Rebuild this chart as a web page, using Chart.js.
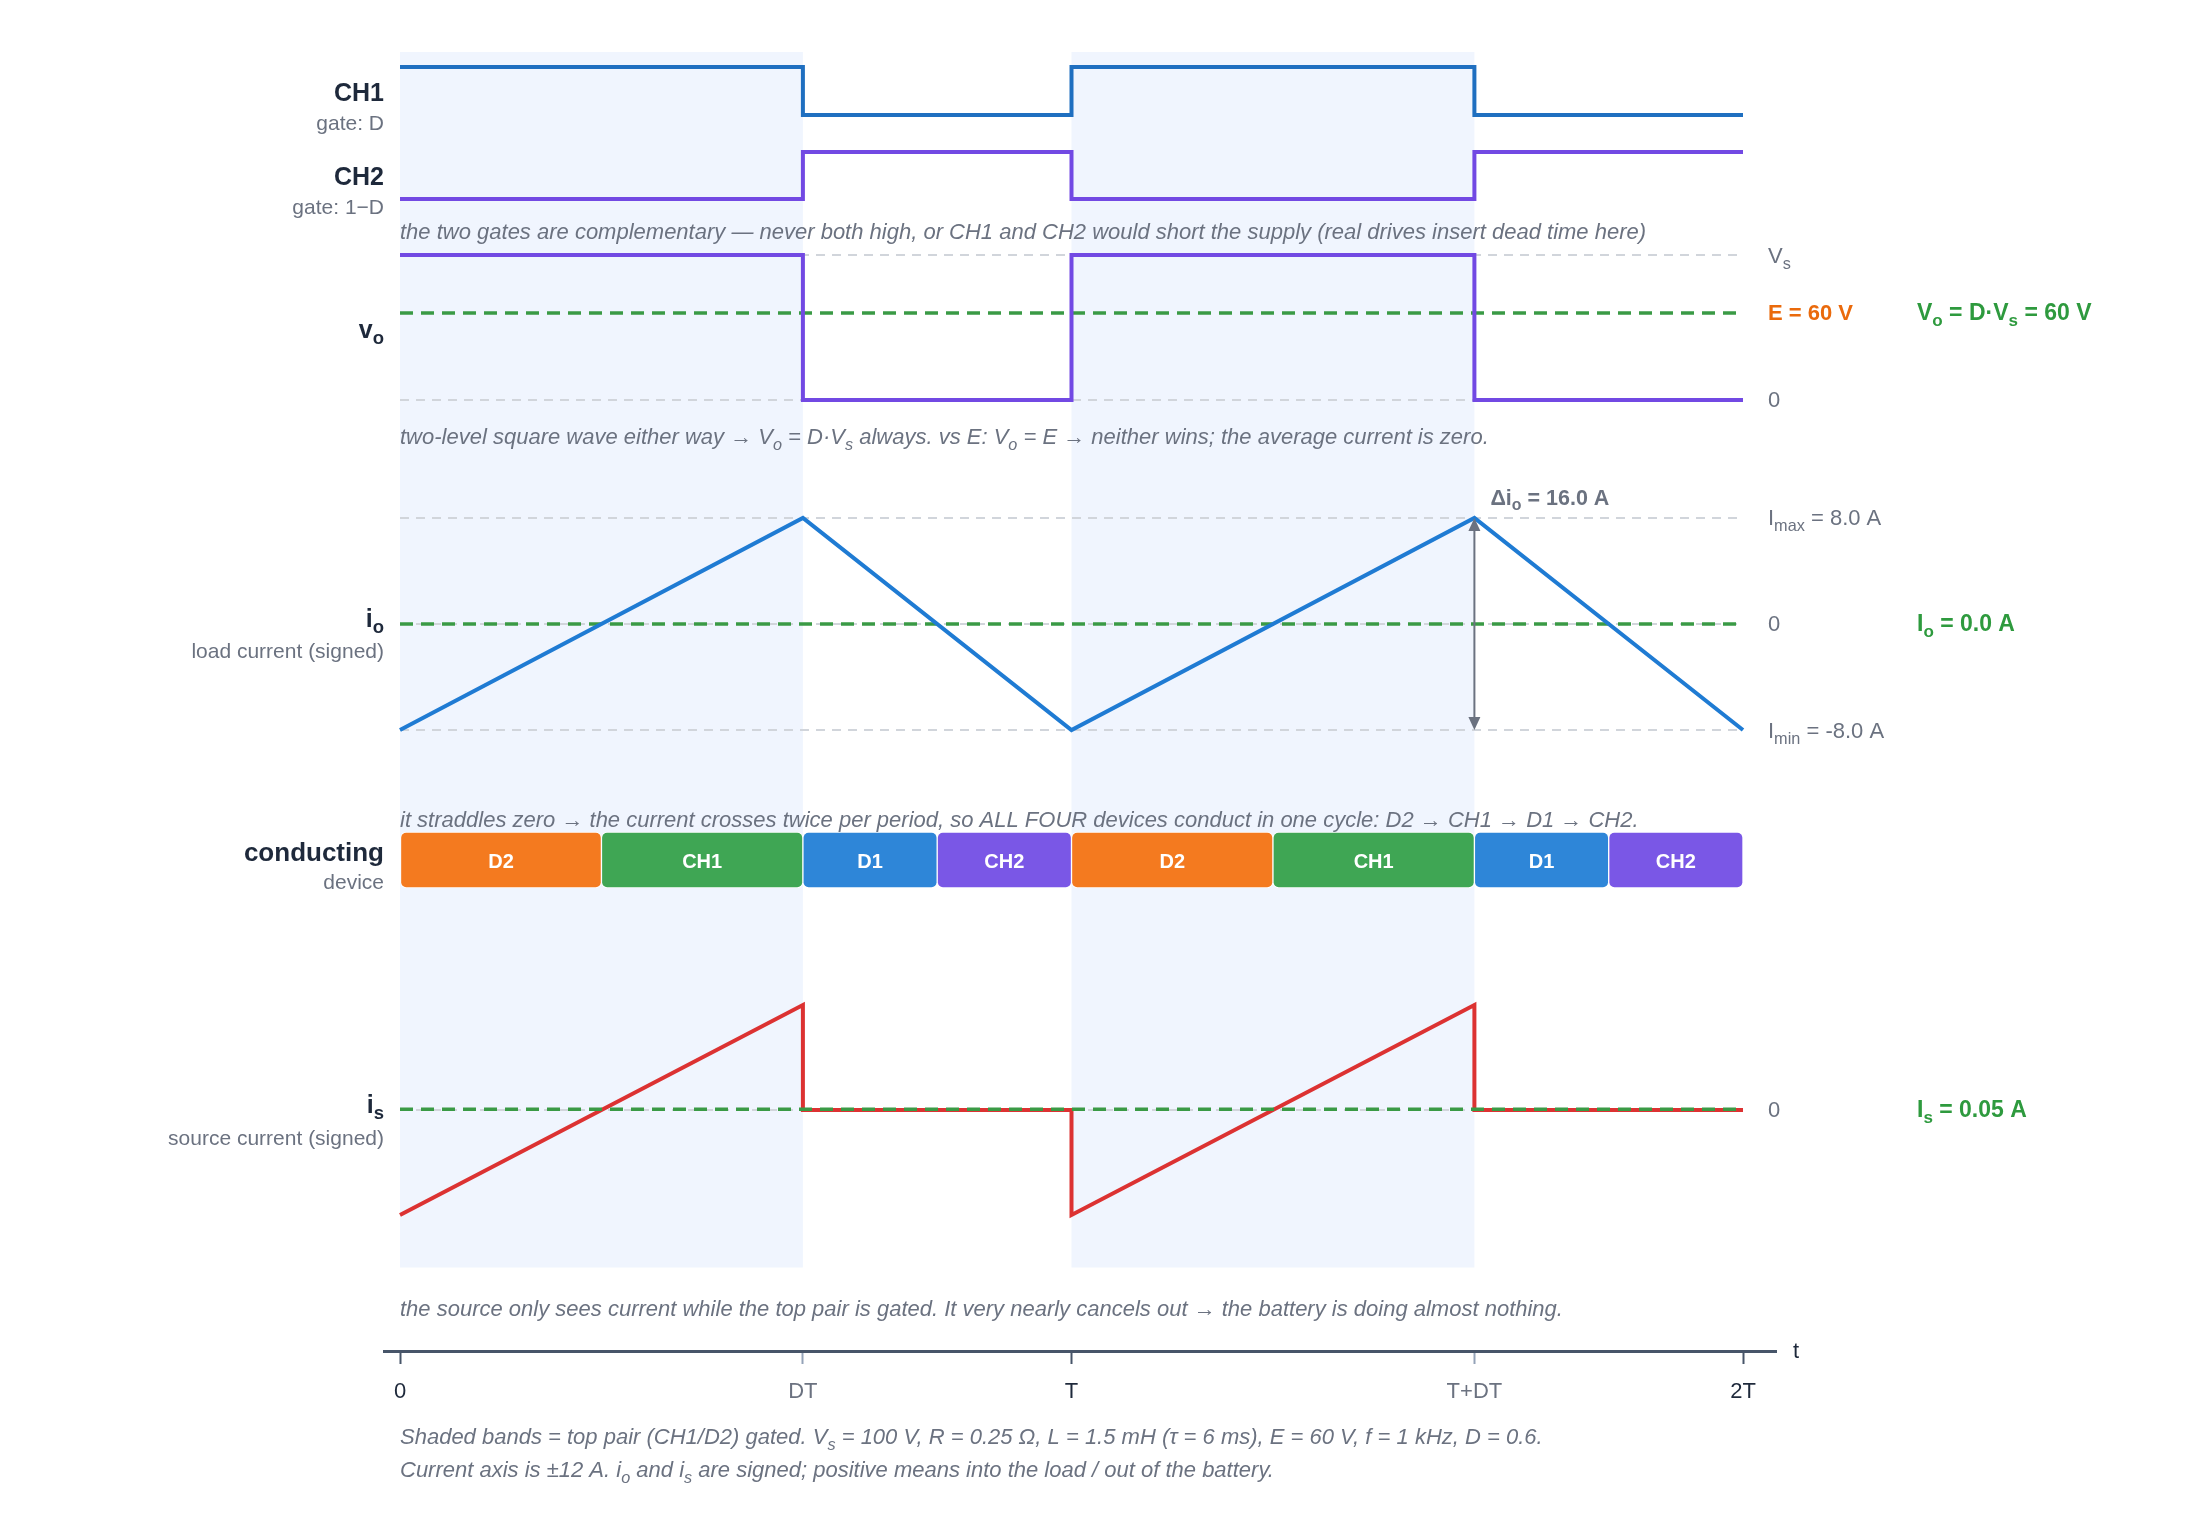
<!DOCTYPE html>
<html>
<head>
<meta charset="utf-8">
<script src="https://cdn.jsdelivr.net/npm/chart.js@4.4.1/dist/chart.umd.min.js"></script>
<style>
  html, body { margin: 0; padding: 0; background: #fff; }
  #wrap { width: 2200px; height: 1520px; }
</style>
</head>
<body>
<div id="wrap"><canvas id="c" width="2200" height="1520"></canvas></div>
<script>
// time axis in ms: T = 1 ms (f = 1 kHz), D = 0.6
const tGate = [0, 0.6, 1, 1.6, 2];
const ch1Gate = [1, 0, 1, 0, 0];
const ch2Gate = [0, 1, 0, 1, 1];
const voLevels = [100, 0, 100, 0, 0];

const tLoad = [0, 0.6, 1, 1.6, 2];
const ioVals = [-8, 8, -8, 8, -8];

const tSource = [0, 0.6, 0.6, 1, 1, 1.6, 1.6, 2];
const isVals = [-8, 8, 0, 0, -8, 8, 0, 0];

const devices = ['D2', 'CH1', 'D1', 'CH2', 'D2', 'CH1', 'D1', 'CH2'];
const devStart = [0, 0.3, 0.6, 0.8, 1, 1.3, 1.6, 1.8];
const devEnd = [0.3, 0.6, 0.8, 1, 1.3, 1.6, 1.8, 2];

const gatedBands = [[0, 0.6], [1, 1.6]];
const tickVals = [0, 0.6, 1, 1.6, 2];
const tickLabels = ['0', 'DT', 'T', 'T+DT', '2T'];

const Vs = 100, E = 60, VoAvg = 60;
const Imax = 8, Imin = -8, IoAvg = 0, IsAvg = 0.05, Ilim = 12;

// ---- layout (pixels) ----
const W = 2200, H = 1520;
const AREA = { left: 384, right: 1776, top: 52, bottom: 1351 };
const X0 = 400, X2T = 1743;
const FONT = '"Liberation Sans", Arial, Helvetica, sans-serif';
const COL = {
  dark: '#1e293b', gray: '#6b7280', ref: '#d1d5db', green: '#2e9a3e', greenLine: '#3a9a45',
  orange: '#ea6a0c', band: '#f0f5fe', ch1: '#1f6fc0', purple: '#7249e3', io: '#1f7bd3', is: '#dc3232'
};
const devColor = { D2: '#f47a1f', CH1: '#3fa654', D1: '#2e86d8', CH2: '#7a57e6' };

// value hi sits at pixel pHi, value lo at pixel pLo; axis spans whole chart area
function rowScale(hi, lo, pHi, pLo) {
  const k = (hi - lo) / (pLo - pHi);
  return { type: 'linear', display: false, offset: false,
    min: lo - k * (AREA.bottom - pLo), max: hi + k * (pHi - AREA.top) };
}

const kx = (tickVals[4] - tickVals[0]) / (X2T - X0);
const tEnd = tickVals[tickVals.length - 1];

const pts = (xs, ys) => xs.map((x, i) => ({ x: x, y: ys[i] }));
const flat = v => [{ x: tickVals[0], y: v }, { x: tEnd, y: v }];

const lineBase = { type: 'line', pointRadius: 0, tension: 0, fill: false, borderJoinStyle: 'miter', xAxisID: 'x' };
const refLine = (v, axis) => Object.assign({}, lineBase, { data: flat(v), yAxisID: axis,
  borderColor: COL.ref, borderWidth: 2, borderDash: [9, 7], order: 9 });
const avgLine = (v, axis) => Object.assign({}, lineBase, { data: flat(v), yAxisID: axis,
  borderColor: COL.greenLine, borderWidth: 3.5, borderDash: [13, 8], order: 5 });

const datasets = [
  Object.assign({}, lineBase, { data: pts(tGate, ch1Gate), yAxisID: 'yCH1', stepped: 'before',
    borderColor: COL.ch1, borderWidth: 4, order: 3 }),
  Object.assign({}, lineBase, { data: pts(tGate, ch2Gate), yAxisID: 'yCH2', stepped: 'before',
    borderColor: COL.purple, borderWidth: 4, order: 3 }),

  refLine(Vs, 'yVo'), refLine(0, 'yVo'),
  avgLine(E, 'yVo'),
  Object.assign({}, lineBase, { data: pts(tGate, voLevels), yAxisID: 'yVo', stepped: 'before',
    borderColor: COL.purple, borderWidth: 4, order: 3 }),

  refLine(Imax, 'yIo'), refLine(0, 'yIo'), refLine(Imin, 'yIo'),
  avgLine(IoAvg, 'yIo'),
  Object.assign({}, lineBase, { data: pts(tLoad, ioVals), yAxisID: 'yIo',
    borderColor: COL.io, borderWidth: 4, order: 3 }),

  { type: 'bar', indexAxis: 'y', xAxisID: 'x', yAxisID: 'yDev', order: 4,
    data: devStart.map((s, i) => ({ x: [s, devEnd[i]], y: 0 })),
    backgroundColor: devices.map(d => devColor[d]),
    borderColor: '#ffffff', borderWidth: 1, borderRadius: 6, borderSkipped: false,
    barThickness: 56, grouped: false },

  refLine(0, 'yIs'),
  Object.assign({}, lineBase, { data: pts(tSource, isVals), yAxisID: 'yIs',
    borderColor: COL.is, borderWidth: 4, order: 3 }),
  Object.assign(avgLine(IsAvg, 'yIs'), { order: 2 })
];

function richText(ctx, str, x, y, o) {
  const size = o.size || 20, weight = o.weight || 'normal', style = o.style || 'normal';
  const mk = s => style + ' ' + weight + ' ' + s + 'px ' + FONT;
  const segs = str.split(/(_\{[^}]*\})/).filter(s => s.length).map(p =>
    p.startsWith('_{') ? { t: p.slice(2, -1), sub: true } : { t: p, sub: false });
  let total = 0;
  segs.forEach(s => { ctx.font = mk(s.sub ? size * 0.74 : size); s.w = ctx.measureText(s.t).width; total += s.w; });
  let cx = o.align === 'right' ? x - total : (o.align === 'center' ? x - total / 2 : x);
  ctx.fillStyle = o.color; ctx.textBaseline = 'middle'; ctx.textAlign = 'left';
  segs.forEach(s => {
    ctx.font = mk(s.sub ? size * 0.74 : size);
    ctx.fillText(s.t, cx, s.sub ? y + size * 0.32 : y);
    cx += s.w;
  });
}

const bandPlugin = {
  id: 'bands',
  beforeDatasetsDraw(chart) {
    const { ctx, scales } = chart;
    const top = chart.chartArea.top, bot = scales.yIs.getPixelForValue(-Ilim);
    ctx.save();
    ctx.fillStyle = COL.band;
    gatedBands.forEach(b => {
      const a = scales.x.getPixelForValue(b[0]), z = scales.x.getPixelForValue(b[1]);
      ctx.fillRect(a, top, z - a, bot - top);
    });
    ctx.restore();
  }
};

const textPlugin = {
  id: 'texts',
  afterDraw(chart) {
    const { ctx, scales } = chart;
    const x = scales.x, L = AREA.left;
    const R1 = x.getPixelForValue(tEnd) + 25, R2 = x.getPixelForValue(tEnd) + 174;
    const capX = x.getPixelForValue(0);
    ctx.save();

    // left row labels
    const yc1 = (scales.yCH1.getPixelForValue(1) + scales.yCH1.getPixelForValue(0)) / 2 + 3;
    const yc2 = (scales.yCH2.getPixelForValue(1) + scales.yCH2.getPixelForValue(0)) / 2 + 3;
    richText(ctx, 'CH1', L, yc1, { size: 25, weight: 'bold', color: COL.dark, align: 'right' });
    richText(ctx, 'gate: D', L, yc1 + 30, { size: 21, color: COL.gray, align: 'right' });
    richText(ctx, 'CH2', L, yc2, { size: 25, weight: 'bold', color: COL.dark, align: 'right' });
    richText(ctx, 'gate: 1\u2212D', L, yc2 + 30, { size: 21, color: COL.gray, align: 'right' });
    richText(ctx, 'v_{o}', L, scales.yVo.getPixelForValue(E) + 18, { size: 25, weight: 'bold', color: COL.dark, align: 'right' });
    const yio = scales.yIo.getPixelForValue(0);
    richText(ctx, 'i_{o}', L, yio - 4, { size: 25, weight: 'bold', color: COL.dark, align: 'right' });
    richText(ctx, 'load current (signed)', L, yio + 28, { size: 21, color: COL.gray, align: 'right' });
    const ydev = scales.yDev.getPixelForValue(0);
    richText(ctx, 'conducting', L, ydev - 6, { size: 26, weight: 'bold', color: COL.dark, align: 'right' });
    richText(ctx, 'device', L, ydev + 23, { size: 21, color: COL.gray, align: 'right' });
    const yis = scales.yIs.getPixelForValue(0);
    richText(ctx, 'i_{s}', L, yis - 4, { size: 25, weight: 'bold', color: COL.dark, align: 'right' });
    richText(ctx, 'source current (signed)', L, yis + 29, { size: 21, color: COL.gray, align: 'right' });

    // right value labels
    richText(ctx, 'V_{s}', R1, scales.yVo.getPixelForValue(Vs) + 2, { size: 22, color: COL.gray });
    richText(ctx, 'E = ' + E + ' V', R1, scales.yVo.getPixelForValue(E) + 1, { size: 22, weight: 'bold', color: COL.orange });
    richText(ctx, '0', R1, scales.yVo.getPixelForValue(0) + 1, { size: 22, color: COL.gray });
    richText(ctx, 'V_{o} = D\u00b7V_{s} = ' + VoAvg + ' V', R2, scales.yVo.getPixelForValue(E) + 1, { size: 23, weight: 'bold', color: COL.green });

    richText(ctx, 'I_{max} = ' + Imax.toFixed(1) + ' A', R1, scales.yIo.getPixelForValue(Imax) + 1, { size: 22, color: COL.gray });
    richText(ctx, '0', R1, yio + 1, { size: 22, color: COL.gray });
    richText(ctx, 'I_{min} = ' + Imin.toFixed(1) + ' A', R1, scales.yIo.getPixelForValue(Imin) + 2, { size: 22, color: COL.gray });
    richText(ctx, 'I_{o} = ' + IoAvg.toFixed(1) + ' A', R2, yio + 1, { size: 23, weight: 'bold', color: COL.green });

    richText(ctx, '0', R1, yis + 1, { size: 22, color: COL.gray });
    richText(ctx, 'I_{s} = ' + IsAvg.toFixed(2) + ' A', R2, yis + 1, { size: 23, weight: 'bold', color: COL.green });

    // ripple arrow
    const ax = x.getPixelForValue(gatedBands[1][1]);
    const y1 = scales.yIo.getPixelForValue(Imax), y2 = scales.yIo.getPixelForValue(Imin);
    ctx.strokeStyle = COL.gray; ctx.fillStyle = COL.gray; ctx.lineWidth = 2;
    ctx.beginPath(); ctx.moveTo(ax, y1 + 10); ctx.lineTo(ax, y2 - 10); ctx.stroke();
    ctx.beginPath(); ctx.moveTo(ax, y1); ctx.lineTo(ax - 6, y1 + 13); ctx.lineTo(ax + 6, y1 + 13); ctx.closePath(); ctx.fill();
    ctx.beginPath(); ctx.moveTo(ax, y2); ctx.lineTo(ax - 6, y2 - 13); ctx.lineTo(ax + 6, y2 - 13); ctx.closePath(); ctx.fill();
    richText(ctx, '\u0394i_{o} = ' + (Imax - Imin).toFixed(1) + ' A', ax + 16, y1 - 19, { size: 21.5, weight: 'bold', color: COL.gray });

    // device names on the bars
    const meta = chart.getDatasetMeta(datasets.findIndex(d => d.type === 'bar'));
    meta.data.forEach((el, i) => {
      richText(ctx, devices[i], (el.x + el.base) / 2, el.y + 2, { size: 20, weight: 'bold', color: '#ffffff', align: 'center' });
    });

    // captions
    const cap = { size: 22, style: 'italic', color: COL.gray };
    richText(ctx, 'the two gates are complementary \u2014 never both high, or CH1 and CH2 would short the supply (real drives insert dead time here)', capX, 233, cap);
    richText(ctx, 'two-level square wave either way \u2192 V_{o} = D\u00b7V_{s} always. vs E: V_{o} = E \u2192 neither wins; the average current is zero.', capX, 438, cap);
    richText(ctx, 'it straddles zero \u2192 the current crosses twice per period, so ALL FOUR devices conduct in one cycle: D2 \u2192 CH1 \u2192 D1 \u2192 CH2.', capX, 821, cap);
    richText(ctx, 'the source only sees current while the top pair is gated. It very nearly cancels out \u2192 the battery is doing almost nothing.', capX, 1310, cap);
    richText(ctx, 'Shaded bands = top pair (CH1/D2) gated. V_{s} = 100 V, R = 0.25 \u03a9, L = 1.5 mH (\u03c4 = 6 ms), E = 60 V, f = 1 kHz, D = 0.6.', capX, 1438, cap);
    richText(ctx, 'Current axis is \u00b1' + Ilim + ' A. i_{o} and i_{s} are signed; positive means into the load / out of the battery.', capX, 1471, cap);

    // time axis name
    richText(ctx, 't', AREA.right + 17, AREA.bottom + 1, { size: 22, color: COL.dark });
    ctx.restore();
  }
};

const majorTick = i => tickLabels[i] === '0' || tickLabels[i] === 'T' || tickLabels[i] === '2T';

new Chart(document.getElementById('c'), {
  type: 'line',
  data: { datasets: datasets },
  options: {
    responsive: false, animation: false, devicePixelRatio: 1,
    layout: { padding: { left: AREA.left, right: W - AREA.right, top: AREA.top, bottom: 0 } },
    plugins: { legend: { display: false }, tooltip: { enabled: false } },
    scales: {
      x: {
        type: 'linear', offset: false,
        min: tickVals[0] - kx * (X0 - AREA.left), max: tEnd + kx * (AREA.right - X2T),
        afterBuildTicks: s => { s.ticks = tickVals.map(v => ({ value: v })); },
        afterFit: s => { s.height = H - AREA.bottom; },
        border: { display: true, color: '#475569', width: 3 },
        grid: { drawOnChartArea: false, drawTicks: true, tickLength: 13, tickWidth: 2,
          tickColor: c => (c.index !== undefined && majorTick(c.index)) ? '#475569' : '#94a3b8' },
        ticks: { autoSkip: false, maxRotation: 0, padding: 15,
          font: { size: 22, family: FONT },
          color: c => majorTick(c.index) ? COL.dark : COL.gray,
          callback: (v, i) => tickLabels[i] }
      },
      yCH1: rowScale(1, 0, 67, 115),
      yCH2: rowScale(1, 0, 152, 199),
      yVo: rowScale(Vs, 0, 255, 400),
      yIo: rowScale(Imax, Imin, 518, 730),
      yDev: rowScale(1, -1, 832, 888),
      yIs: rowScale(Imax, Imin, 1005, 1215)
    }
  },
  plugins: [bandPlugin, textPlugin]
});
</script>
</body>
</html>
